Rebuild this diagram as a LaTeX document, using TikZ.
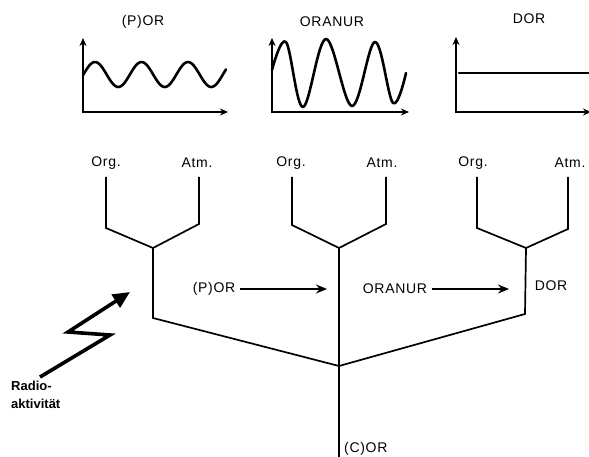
\documentclass[tikz,border=0pt]{standalone}
\usepackage{fontspec}
\setmainfont{Liberation Sans}
\newfontfamily\labfont[LetterSpace=5]{Liberation Sans}
\usetikzlibrary{arrows.meta}

\tikzset{
	lab/.style={font=\labfont\fontsize{14}{15}\selectfont, inner sep=1pt},
	axis/.style={line width=2.6pt, {Stealth[length=8pt,width=7pt]}-{Stealth[length=8pt,width=7pt]}},
	wave/.style={line width=2.6pt, line join=round, line cap=round},
	tree/.style={line width=1.7pt},
	flow/.style={line width=1.7pt, -{Stealth[length=11pt,width=9pt]}},
}

\begin{document}
\begin{tikzpicture}[x=1pt, y=-1pt]
	\useasboundingbox (0,0) rectangle (589,457);

	% Curves over time for the three states
	\node[lab] (tpor) at (143,22) {(P)OR};
	\node[lab] (tora) at (332,22) {ORANUR};
	\node[lab] (tdor) at (529,19) {DOR};

	\draw[axis] (83,38) -- (83,112) -- (228,112);
	\draw[wave] plot[domain=83:226, samples=90] (\x, {74.5-12.5*sin((\x-83.4)/46.5*360)});

	\draw[axis] (272,38) -- (272,112) -- (409,112);
	\draw[wave] plot[smooth, tension=0.6] coordinates {(272,70) (286,42) (303,107) (326,39) (352,106) (375,42) (393,103) (406,73)};

	\draw[axis] (456,37) -- (456,112) -- (591,112);
	\draw[wave] (459,73) -- (589,73);

	% Organismus and Atmosphaere branches
	\node[lab] (org1) at (106,163) {Org.};
	\node[lab] (atm1) at (197,163) {Atm.};
	\node[lab] (org2) at (291,163) {Org.};
	\node[lab] (atm2) at (382,163) {Atm.};
	\node[lab] (org3) at (473,163) {Org.};
	\node[lab] (atm3) at (570,163) {Atm.};

	\coordinate (a1) at (106,177);
	\coordinate (b1) at (106,228);
	\coordinate (j1) at (153,248);
	\coordinate (b2) at (199,224);
	\coordinate (a2) at (199,177);
	\draw[tree] (a1) -- (b1) -- (j1) -- (b2) -- (a2);

	\coordinate (a3) at (292,177);
	\coordinate (b3) at (292,225);
	\coordinate (j2) at (339,248);
	\coordinate (b4) at (386,224);
	\coordinate (a4) at (386,177);
	\draw[tree] (a3) -- (b3) -- (j2) -- (b4) -- (a4);

	\coordinate (a5) at (477,177);
	\coordinate (b5) at (477,228);
	\coordinate (j3) at (526,248);
	\coordinate (b6) at (568,229);
	\coordinate (a6) at (568,177);
	\draw[tree] (a5) -- (b5) -- (j3) -- (b6) -- (a6);

	% Lower tree down to the root
	\coordinate (c1) at (153,318);
	\coordinate (c0) at (339,366);
	\coordinate (c3) at (525,314);
	\coordinate (root) at (339,458);
	\draw[tree] (j1) -- (c1) -- (c0) -- (c3) -- (j3);
	\draw[line width=2.4pt] (j2) -- (root);

	% Transitions
	\node[lab] (por) at (214,289) {(P)OR};
	\coordinate (p2) at (327,289);
	\draw[flow, shorten <=4pt] (por.east) -- (p2);
	\node[lab] (oran) at (395,289) {ORANUR};
	\coordinate (p3) at (509,289);
	\draw[flow, shorten <=4pt] (oran.east) -- (p3);
	\node[lab] (dor) at (551,286) {DOR};
	\node[lab, anchor=west] (cor) at (343,449) {(C)OR};

	% Radioactivity flash
	\node[align=left, anchor=north west, inner sep=0pt, font=\bfseries\fontsize{13}{18}\selectfont] (rad) at (11,381) {Radio-\\aktivität};
	\coordinate (z1) at (110,335);
	\coordinate (z2) at (68,332);
	\coordinate (z3) at (130,292);
	\draw[line width=3.6pt, line join=miter, -{Triangle[length=17pt,width=15pt]}] (40,377) -- (z1) -- (z2) -- (z3);
\end{tikzpicture}
\end{document}
